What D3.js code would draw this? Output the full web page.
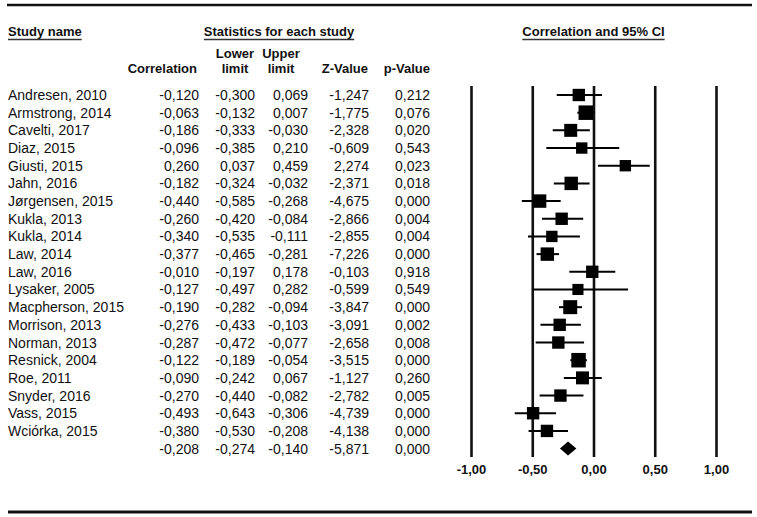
<!DOCTYPE html>
<html>
<head>
<meta charset="utf-8">
<script src="https://cdn.jsdelivr.net/npm/d3@7"></script>
<style>
  html, body { margin: 0; padding: 0; background: #fff; }
  svg { display: block; font-family: "Liberation Sans", Arial, sans-serif; }
</style>
</head>
<body>
<svg id="chart" width="757" height="517"></svg>
<script>
// ---------- data ----------
const studies = ["Andresen, 2010","Armstrong, 2014","Cavelti, 2017","Diaz, 2015","Giusti, 2015","Jahn, 2016","Jørgensen, 2015","Kukla, 2013","Kukla, 2014","Law, 2014","Law, 2016","Lysaker, 2005","Macpherson, 2015","Morrison, 2013","Norman, 2013","Resnick, 2004","Roe, 2011","Snyder, 2016","Vass, 2015","Wciórka, 2015"];
const correlation = [-0.120,-0.063,-0.186,-0.096,0.260,-0.182,-0.440,-0.260,-0.340,-0.377,-0.010,-0.127,-0.190,-0.276,-0.287,-0.122,-0.090,-0.270,-0.493,-0.380];
const lowerLimit  = [-0.300,-0.132,-0.333,-0.385,0.037,-0.324,-0.585,-0.420,-0.535,-0.465,-0.197,-0.497,-0.282,-0.433,-0.472,-0.189,-0.242,-0.440,-0.643,-0.530];
const upperLimit  = [0.069,0.007,-0.030,0.210,0.459,-0.032,-0.268,-0.084,-0.111,-0.281,0.178,0.282,-0.094,-0.103,-0.077,-0.054,0.067,-0.082,-0.306,-0.208];
const zValue      = [-1.247,-1.775,-2.328,-0.609,2.274,-2.371,-4.675,-2.866,-2.855,-7.226,-0.103,-0.599,-3.847,-3.091,-2.658,-3.515,-1.127,-2.782,-4.739,-4.138];
const pValue      = [0.212,0.076,0.020,0.543,0.023,0.018,0.000,0.004,0.004,0.000,0.918,0.549,0.000,0.002,0.008,0.000,0.260,0.005,0.000,0.000];
// relative study weights (estimated from square sizes)
const weights     = [5.1,7.0,5.6,4.3,4.3,6.0,6.0,5.1,4.3,6.0,5.1,4.1,6.5,5.1,5.1,7.0,5.6,5.1,5.1,5.1];
// pooled summary
const summary = { correlation: -0.208, lower: -0.274, upper: -0.140, z: -5.871, p: 0.000 };
const axisTicks = [-1, -0.5, 0, 0.5, 1];

// ---------- setup ----------
const svg = d3.select("#chart");
const loc = d3.formatLocale({decimal: ",", thousands: ".", grouping: [3], currency: ["", ""], minus: "-"});
const f3 = loc.format(".3f");
const f2 = loc.format(".2f");

const x = d3.scaleLinear().domain([-1, 1]).range([471, 716]);
const nRows = studies.length + 1;
const y = d3.scaleLinear().domain([0, nRows - 1]).range([95, 448.6]);
const size = d3.scaleSqrt().domain([0, 7]).range([0, 14.5]);

const rowData = studies.map((s, i) => ({
  name: s, r: correlation[i], lo: lowerLimit[i], hi: upperLimit[i], z: zValue[i], p: pValue[i], w: weights[i], i
}));
const sumRow = { name: "", r: summary.correlation, lo: summary.lower, hi: summary.upper, z: summary.z, p: summary.p, i: studies.length };
const allRows = rowData.concat([sumRow]);

// ---------- rules ----------
svg.append("line").attr("x1", 7).attr("x2", 752).attr("y1", 5).attr("y2", 5)
  .attr("stroke", "#111").attr("stroke-width", 2.5);
svg.append("line").attr("x1", 8).attr("x2", 752).attr("y1", 512).attr("y2", 512)
  .attr("stroke", "#111").attr("stroke-width", 3);

// ---------- headers ----------
function underlinedTitle(text, xPos, anchor) {
  const t = svg.append("text").attr("x", xPos).attr("y", 36)
    .attr("text-anchor", anchor).attr("font-weight", "bold").attr("font-size", 13)
    .attr("fill", "#111").text(text);
  const w = t.node().getComputedTextLength();
  const x0 = anchor === "middle" ? xPos - w / 2 : xPos;
  svg.append("line").attr("x1", x0).attr("x2", x0 + w).attr("y1", 39.5).attr("y2", 39.5)
    .attr("stroke", "#333").attr("stroke-width", 1.3);
}
underlinedTitle("Study name", 8, "start");
underlinedTitle("Statistics for each study", 279, "middle");
underlinedTitle("Correlation and 95% CI", x(0), "middle");

const headerCols = [
  { lines: ["Correlation"], x: 197, anchor: "end" },
  { lines: ["Lower", "limit"], x: 235, anchor: "middle" },
  { lines: ["Upper", "limit"], x: 281, anchor: "middle" },
  { lines: ["Z-Value"], x: 368, anchor: "end" },
  { lines: ["p-Value"], x: 430, anchor: "end" }
];
headerCols.forEach(h => {
  h.lines.forEach((ln, k) => {
    svg.append("text")
      .attr("x", h.x)
      .attr("y", 73 - (h.lines.length - 1 - k) * 15.5)
      .attr("text-anchor", h.anchor).attr("font-weight", "bold").attr("font-size", 13)
      .attr("fill", "#111").text(ln);
  });
});

// ---------- table ----------
const colX = { r: 199, lo: 255, hi: 308, z: 369, p: 430 };
const rowsG = svg.append("g").attr("font-size", 14).attr("fill", "#111");
allRows.forEach(d => {
  const yy = y(d.i) + 5;
  rowsG.append("text").attr("x", 8).attr("y", yy).text(d.name);
  ["r", "lo", "hi", "z", "p"].forEach(k => {
    rowsG.append("text").attr("x", colX[k]).attr("y", yy).attr("text-anchor", "end").text(f3(d[k]));
  });
});

// ---------- axis / vertical lines ----------
const axisY = 457;
const axis = d3.axisBottom(x).tickValues(axisTicks).tickFormat(f2)
  .tickSizeInner(-(axisY - 86)).tickSizeOuter(0).tickPadding(8);
const axG = svg.append("g").attr("transform", `translate(0,${axisY})`).call(axis);
axG.select(".domain").remove();
axG.selectAll(".tick line").attr("stroke", "#111").attr("stroke-width", 2.6);
axG.selectAll(".tick text").attr("fill", "#111").attr("font-size", 13).attr("font-weight", "bold")
  .attr("font-family", "'Liberation Sans', Arial, sans-serif");

// ---------- forest marks ----------
const marks = svg.append("g");
marks.selectAll("line.ci").data(rowData).join("line").attr("class", "ci")
  .attr("x1", d => x(d.lo)).attr("x2", d => x(d.hi))
  .attr("y1", d => y(d.i)).attr("y2", d => y(d.i))
  .attr("stroke", "#000").attr("stroke-width", 2);
marks.selectAll("rect.pt").data(rowData).join("rect").attr("class", "pt")
  .attr("x", d => x(d.r) - size(d.w) / 2).attr("y", d => y(d.i) - size(d.w) / 2)
  .attr("width", d => size(d.w)).attr("height", d => size(d.w))
  .attr("fill", "#000");

// summary diamond
const ys = y(sumRow.i);
marks.append("path")
  .attr("d", `M${x(sumRow.lo)},${ys} L${x(sumRow.r)},${ys - 7} L${x(sumRow.hi)},${ys} L${x(sumRow.r)},${ys + 7} Z`)
  .attr("fill", "#000");
</script>
</body>
</html>
